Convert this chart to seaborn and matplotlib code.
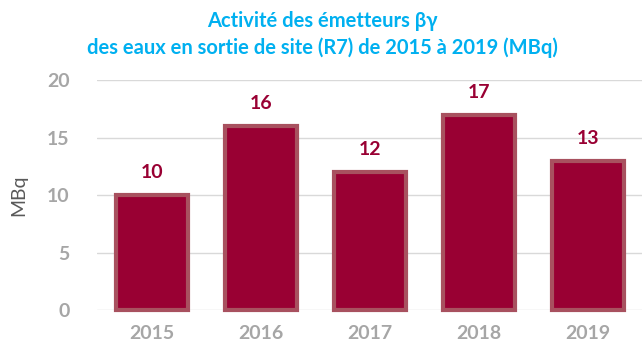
import matplotlib
matplotlib.use("Agg")
import matplotlib.pyplot as plt
import seaborn as sns
import pandas as pd

years = ["2015", "2016", "2017", "2018", "2019"]
activity = [10, 16, 12, 17, 13]
yticks = [0, 5, 10, 15, 20]

sns.set_theme(style="white")
plt.rcParams["font.family"] = ["Lato", "DejaVu Sans"]

df = pd.DataFrame({"year": years, "MBq": activity})

fig = plt.figure(figsize=(6.44, 3.5), dpi=100)
ax = fig.add_axes([0.151, 0.114, 0.846, 0.657])

sns.barplot(data=df, x="year", y="MBq", ax=ax, color="#990033",
            width=0.66, saturation=1, edgecolor="#A8515F", linewidth=3)
for p in ax.patches:
    p.set_clip_on(False)

ax.set_xlim(-0.5, 4.5)
ax.set_ylim(0, 20)
ax.set_yticks(yticks)
ax.set_yticklabels([str(t) for t in yticks])
ax.yaxis.grid(True, color="#D9D9D9", linewidth=1)
ax.set_axisbelow(True)
for s in ax.spines.values():
    s.set_visible(False)
ax.tick_params(axis="both", length=0, labelsize=14, labelcolor="#A6A6A6")
ax.tick_params(axis="y", pad=20)
ax.tick_params(axis="x", pad=11)
for lab in ax.get_xticklabels() + ax.get_yticklabels():
    lab.set_fontweight("bold")
ax.set_xlabel("")
ax.set_ylabel("MBq", fontsize=14, color="#595959", labelpad=14)

for i, v in enumerate(activity):
    ax.text(i, v + 1.2, str(v), ha="center", va="bottom", fontsize=14,
            fontweight="bold", color="#990033")

fig.text(0.5, 0.94, "Activité des émetteurs βγ", ha="center", va="center",
         fontsize=14.5, fontweight="bold", color="#00B0F0")
fig.text(0.5, 0.865, "des eaux en sortie de site (R7) de 2015 à 2019 (MBq)",
         ha="center", va="center", fontsize=14.5, fontweight="bold",
         color="#00B0F0")

fig.savefig("out.png", dpi=100)
